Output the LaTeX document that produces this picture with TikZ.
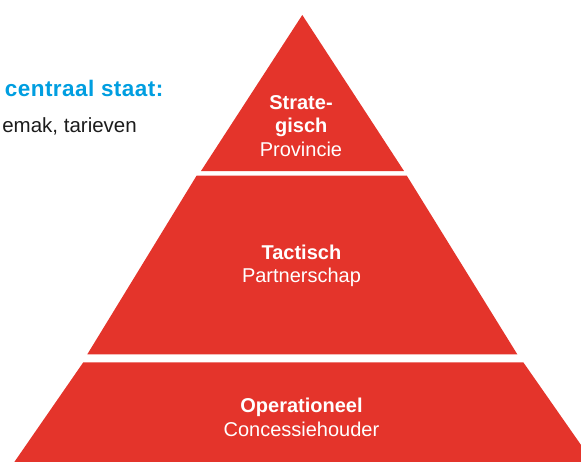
\documentclass[tikz,border=0pt]{standalone}
\usepackage{fontspec}
\setmainfont{Liberation Sans}
\definecolor{pyrrood}{RGB}{228,52,43}
\definecolor{kopblauw}{RGB}{0,158,224}
\definecolor{tekstgrijs}{RGB}{28,28,28}
\tikzset{
	laag/.style={fill=pyrrood, draw=none},
	laagkop/.style={text=white, inner sep=0pt, anchor=base, font=\fontsize{20}{24}\selectfont\bfseries},
	laagnaam/.style={text=white, inner sep=0pt, anchor=base, font=\fontsize{20}{24}\selectfont},
	zijtekst/.style={inner sep=0pt, anchor=base east},
}

\begin{document}
\begin{tikzpicture}[x=1pt, y=-1pt]
		%%%%% START %%%%%
		\useasboundingbox (0,0) rectangle (581,461);
		\clip (0,0) rectangle (581,461);
		
		\node[zijtekst, text=kopblauw, font=\fontsize{22.5}{26}\selectfont\bfseries\addfontfeatures{LetterSpace=2}] (staat) at (163.5,96) {centraal staat:};
		\node[zijtekst, text=tekstgrijs, font=\fontsize{20.5}{25}\selectfont] (tarieven) at (137,132.7) {emak, tarieven};
		
		% top
		\draw[laag] (302.3,15) -- (404,171) -- (201,171) -- cycle;
		% midden
		\draw[laag] (196.7,175.5) -- (406.7,175.5) -- (517.3,354.3) -- (87.3,354.3) -- cycle;
		% onder
		\draw[laag] (83.3,362.3) -- (523.3,362.3) -- (598.5,470) -- (8.8,470) -- cycle;
		
		\node[laagkop] (strate) at (301,109.3) {Strate-};
		\node[laagkop] (gisch) at (301.3,132.7) {gisch};
		\node[laagnaam] (provincie) at (301,156.7) {Provincie};
		
		\node[laagkop] (tactisch) at (301.4,259) {Tactisch};
		\node[laagnaam] (partnerschap) at (301.5,282.5) {Partnerschap};
		
		\node[laagkop] (operationeel) at (301.5,412.3) {Operationeel};
		\node[laagnaam] (concessie) at (301.4,436.7) {Concessiehouder};
		%%%%% END %%%%%
\end{tikzpicture}
\end{document}
